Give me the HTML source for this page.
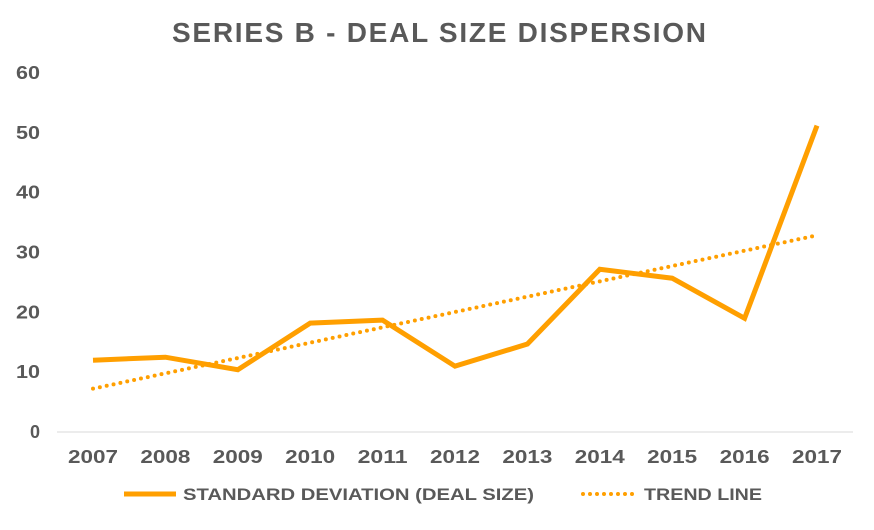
<!DOCTYPE html>
<html><head><meta charset="utf-8"><style>
body{margin:0;background:#fff;}
svg text{font-family:"Liberation Sans",sans-serif;fill:#595959;}
</style></head><body>
<svg id="chart" width="874" height="525">
<text x="172" y="42" textLength="534" lengthAdjust="spacing" font-size="28" font-weight="bold">SERIES B - DEAL SIZE DISPERSION</text>
<g id="yaxis"></g>
<g id="xaxis"></g>
<g id="plot"></g>
<g>
<g>
<line x1="124" y1="494" x2="176" y2="494" stroke="#FF9F00" stroke-width="5"/>
<text x="183" y="500" textLength="351" lengthAdjust="spacingAndGlyphs" font-size="17" font-weight="bold">STANDARD DEVIATION (DEAL SIZE)</text></g>
<g>
<line x1="583" y1="494" x2="636" y2="494" stroke="#FF9F00" stroke-width="4" stroke-dasharray="0 7" stroke-linecap="round"/>
<text x="644" y="500" textLength="118" lengthAdjust="spacingAndGlyphs" font-size="17" font-weight="bold">TREND LINE</text></g>
</g>
</svg>
<script>
const categories=["2007","2008","2009","2010","2011","2012","2013","2014","2015","2016","2017"];
const stdDev=[12,12.5,10.4,18.2,18.7,11,14.7,27.2,25.7,19,51.2];
const yTicks=[0,10,20,30,40,50,60];
const NS="http://www.w3.org/2000/svg";
const x0=93,x1=817,yBase=432,yTop=73,yMax=60;
const xs=i=>x0+i*(x1-x0)/(categories.length-1);
const ys=v=>yBase-v*(yBase-yTop)/yMax;
function mk(tag,attrs,parent){const e=document.createElementNS(NS,tag);for(const k in attrs)e.setAttribute(k,attrs[k]);parent.appendChild(e);return e;}
const ya=document.getElementById('yaxis'),xa=document.getElementById('xaxis'),plot=document.getElementById('plot');
yTicks.forEach(t=>{const e=mk('text',{x:40,y:ys(t)+6,'text-anchor':'end','font-size':18,'font-weight':'bold'},ya);e.textContent=t;
if(t>0){e.setAttribute('textLength',24);e.setAttribute('lengthAdjust','spacingAndGlyphs');}

});
const ax=mk('line',{x1:57,x2:853,y1:yBase,y2:yBase,stroke:'#d9d9d9','stroke-width':1},xa);


categories.forEach((c,i)=>{const e=mk('text',{x:xs(i)-25,y:463,textLength:50,lengthAdjust:'spacingAndGlyphs','font-size':18,'font-weight':'bold'},xa);e.textContent=c;

});
// linear regression trend
const n=stdDev.length,mx=(n-1)/2,my=stdDev.reduce((a,b)=>a+b,0)/n;
let sxy=0,sxx=0;stdDev.forEach((v,i)=>{sxy+=(i-mx)*(v-my);sxx+=(i-mx)*(i-mx);});
const slope=sxy/sxx,icpt=my-slope*mx;
const tr=mk('line',{x1:xs(0),y1:ys(icpt),x2:xs(n-1),y2:ys(icpt+slope*(n-1)),stroke:'#FF9F00','stroke-width':4,'stroke-dasharray':'0 7','stroke-linecap':'round'},plot);


const p=mk('polyline',{points:stdDev.map((v,i)=>xs(i)+','+ys(v)).join(' '),fill:'none',stroke:'#FF9F00','stroke-width':5,'stroke-linejoin':'miter'},plot);


</script>
</body></html>
